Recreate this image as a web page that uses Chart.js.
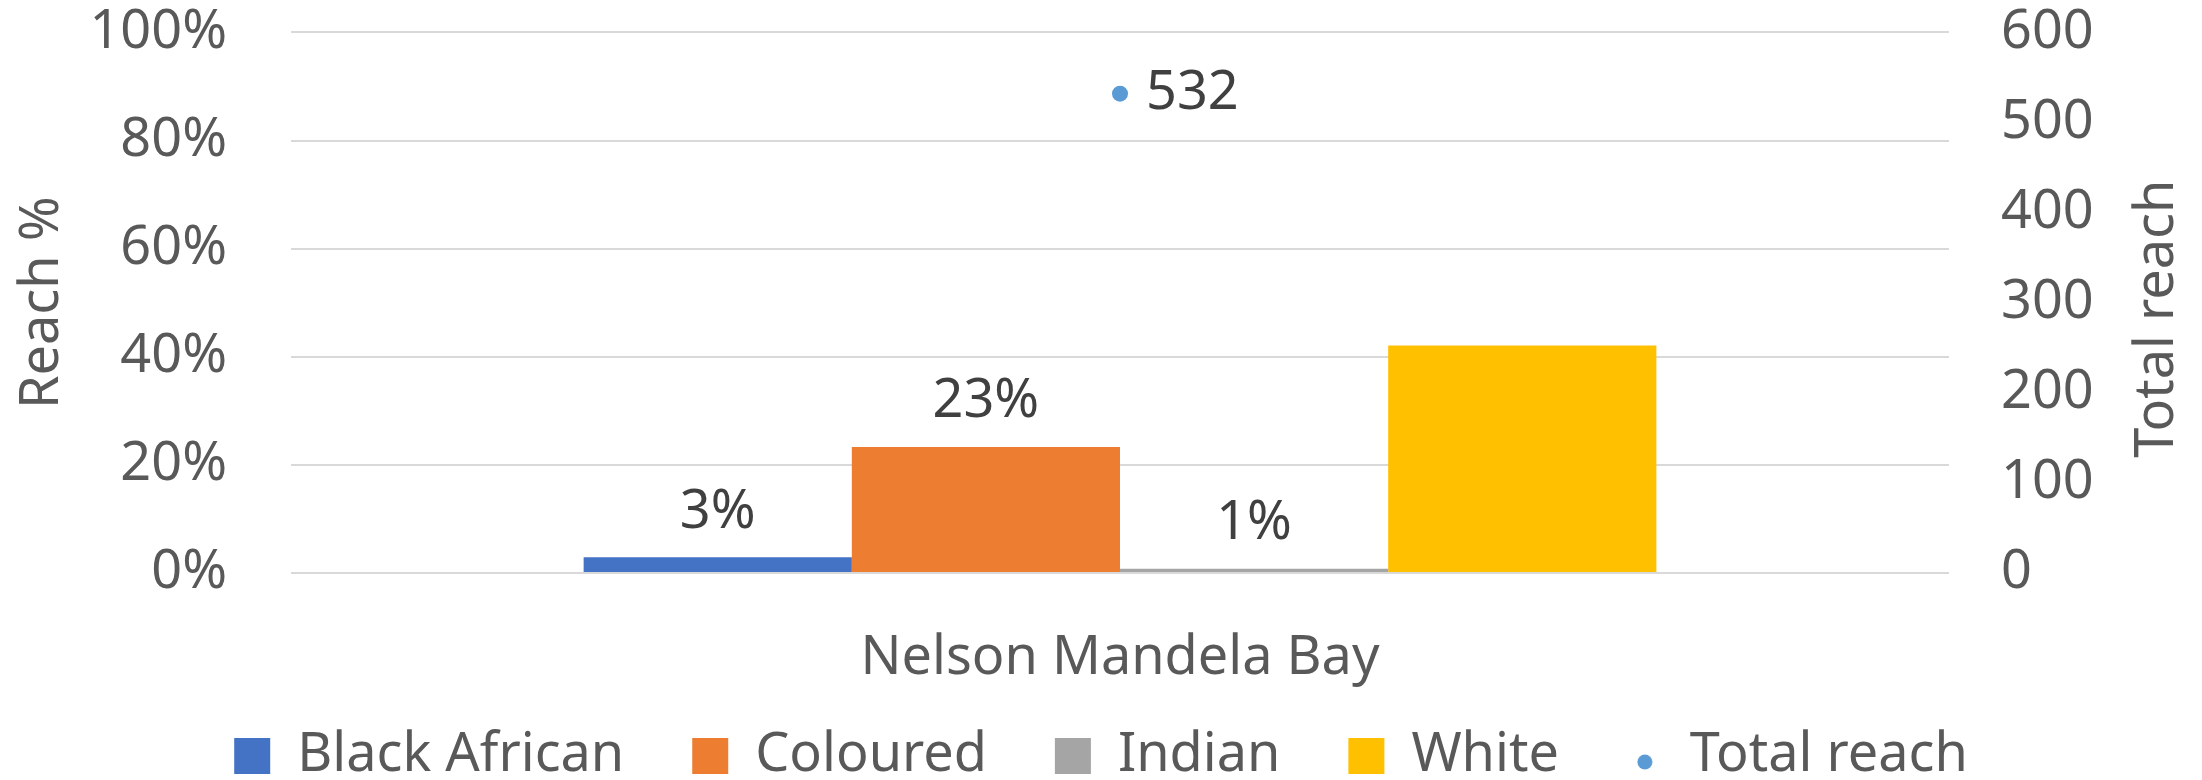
<!DOCTYPE html>
<html lang="en">
<head>
  <meta charset="UTF-8" />
  <title>Reach by group - Nelson Mandela Bay</title>
  <script src="https://cdn.jsdelivr.net/npm/chart.js"></script>
  <style>
    html, body { margin: 0; padding: 0; background: #fff; }
    #wrap { width: 2202px; height: 780px; position: relative; }
  </style>
</head>
<body>
  <div id="wrap"><canvas id="chart"></canvas></div>

  <script>
    // data
    const categories = ["Nelson Mandela Bay"];
    const groups = ["Black African", "Coloured", "Indian", "White"];
    const groupColors = ["#4472C4", "#ED7D31", "#A5A5A5", "#FFC000"];
    const reachPct = [2.9, 23.3, 0.8, 42.1];
    const reachLabels = ["3%", "23%", "1%", ""];
    const totalReach = [532];
    const leftTicks = [0, 20, 40, 60, 80, 100];
    const rightTicks = [0, 100, 200, 300, 400, 500, 600];

    const textGrey = "#595959";
    const labelGrey = "#404040";
    const fontFamily = "'Noto Sans', sans-serif";
    const fontSize = 54;

    Chart.defaults.font.family = fontFamily;
    Chart.defaults.font.size = fontSize;
    Chart.defaults.color = textGrey;

    // small dot used for the "Total reach" legend entry (sits a bit low, like the original)
    const dot = document.createElement("canvas");
    dot.width = 16; dot.height = 30;
    const dctx = dot.getContext("2d");
    dctx.fillStyle = "#5B9BD5";
    dctx.beginPath();
    dctx.arc(8, 21, 7.5, 0, Math.PI * 2);
    dctx.fill();

    const datasets = groups.map((g, i) => ({
      type: "bar",
      label: g,
      data: [reachPct[i]],
      backgroundColor: groupColors[i],
      borderWidth: 0,
      pointStyle: "rect",
      yAxisID: "y",
      categoryPercentage: 0.647,
      barPercentage: 1.0,
      order: 2
    }));
    datasets.push({
      type: "line",
      label: "Total reach",
      data: totalReach,
      yAxisID: "y1",
      showLine: false,
      pointRadius: 8,
      pointHoverRadius: 8,
      pointBackgroundColor: "#5B9BD5",
      pointBorderWidth: 0,
      backgroundColor: "#5B9BD5",
      borderColor: "#5B9BD5",
      order: 1
    });

    // value labels above bars and next to the point
    const valueLabels = {
      id: "valueLabels",
      afterDatasetsDraw(chart) {
        const ctx = chart.ctx;
        ctx.save();
        ctx.font = fontSize + "px " + fontFamily;
        ctx.fillStyle = labelGrey;
        ctx.textBaseline = "middle";
        groups.forEach((g, i) => {
          const bar = chart.getDatasetMeta(i).data[0];
          if (!reachLabels[i]) return;
          ctx.textAlign = "center";
          ctx.fillText(reachLabels[i], bar.x, bar.y - 45);
        });
        const pt = chart.getDatasetMeta(groups.length).data[0];
        ctx.textAlign = "left";
        ctx.fillText(String(totalReach[0]), pt.x + 26, pt.y);
        ctx.restore();
      }
    };

    // right axis title reads bottom-to-top like the original
    const rightTitle = {
      id: "rightTitle",
      afterDraw(chart) {
        const ctx = chart.ctx;
        const a = chart.chartArea;
        ctx.save();
        ctx.font = fontSize + "px " + fontFamily;
        ctx.fillStyle = textGrey;
        ctx.textAlign = "center";
        ctx.textBaseline = "middle";
        ctx.translate(2158, (a.top + a.bottom) / 2 + 16);
        ctx.rotate(-Math.PI / 2);
        ctx.fillText("Total reach", 0, 0);
        ctx.restore();
      }
    };

    new Chart(document.getElementById("chart"), {
      data: { labels: categories, datasets: datasets },
      plugins: [valueLabels, rightTitle],
      options: {
        responsive: true,
        maintainAspectRatio: false,
        animation: false,
        layout: { padding: { top: 32, left: 0, right: 0, bottom: -13 } },
        plugins: {
          tooltip: { enabled: false },
          legend: {
            position: "bottom",
            labels: {
              usePointStyle: true,
              boxWidth: 36,
              boxHeight: 36,
              padding: 68,
              color: textGrey,
              sort: (a, b) => a.datasetIndex - b.datasetIndex,
              generateLabels(chart) {
                const items = Chart.defaults.plugins.legend.labels.generateLabels(chart);
                items.forEach(it => {
                  if (it.text === "Total reach") it.pointStyle = dot;
                  else it.pointStyle = "rect";
                  it.lineWidth = 0;
                });
                return items;
              }
            }
          }
        },
        scales: {
          x: {
            grid: { display: false },
            border: { display: false },
            ticks: { padding: 45, color: textGrey },
            afterFit(scale) {
              scale.height = 88;
              // let the category label run past the shortened axis box
              scale._computeLabelArea = () => undefined;
            }
          },
          y: {
            position: "left",
            min: leftTicks[0],
            max: leftTicks[leftTicks.length - 1],
            ticks: {
              stepSize: 20,
              padding: 0,
              color: textGrey,
              callback: v => v + "%"
            },
            grid: { color: "#d9d9d9", lineWidth: 2, drawTicks: true, tickLength: 64, tickColor: "rgba(0,0,0,0)" },
            border: { display: false },
            title: { display: true, text: "Reach %", color: textGrey, padding: { top: 10, bottom: 0 } },
            afterFit(scale) { scale.width = 291; }
          },
          y1: {
            position: "right",
            min: rightTicks[0],
            max: rightTicks[rightTicks.length - 1],
            ticks: { stepSize: 100, padding: 0, color: textGrey },
            grid: { display: true, drawOnChartArea: false, drawTicks: true, tickLength: 52, tickColor: "rgba(0,0,0,0)" },
            border: { display: false },
            afterFit(scale) { scale.width = 253; }
          }
        }
      }
    });
  </script>
</body>
</html>
